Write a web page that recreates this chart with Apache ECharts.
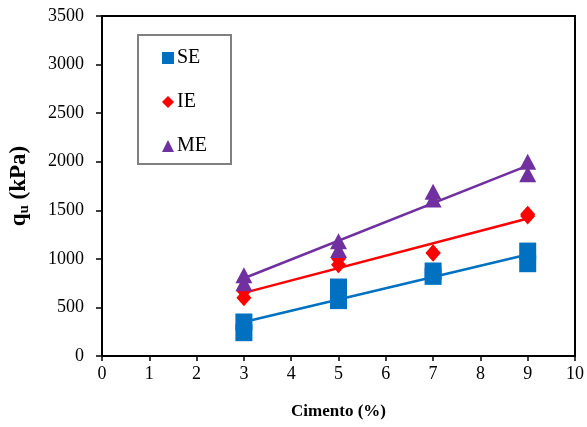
<!DOCTYPE html>
<html>
<head>
<meta charset="utf-8">
<script src="https://cdn.jsdelivr.net/npm/echarts@6/dist/echarts.min.js"></script>
<style>html,body{margin:0;padding:0;background:#fff}#c{width:587px;height:427px}</style>
</head>
<body>
<div id="c"></div>
<script>
const xTicks = [0,1,2,3,4,5,6,7,8,9,10];
const yTicks = [0,500,1000,1500,2000,2500,3000,3500];
const cement = [3,3,5,5,7,7,9,9];
const seValues = [350,240,710,570,875,820,1080,950];
const ieValues = [670,600,1000,940,1060,1060,1460,1440];
const meValues = [830,750,1180,1090,1690,1610,2000,1870];
const trendX = [3,9];
const seTrend = [350,1045];
const ieTrend = [650,1415];
const meTrend = [800,1960];

const font = '"Liberation Serif","Times New Roman",serif';
const pairs = (xs, ys) => xs.map((x,i)=>[x, ys[i]]);

const chart = echarts.init(document.getElementById('c'));
chart.setOption({
  animation:false,
  backgroundColor:'#fff',
  grid:{left:101,right:12,top:16,bottom:71,show:true,borderColor:'#000',borderWidth:2},
  legend:{
    data:['SE','IE','ME'],
    orient:'vertical',left:138,top:35,
    padding:[13,24,8,24],
    itemGap:24,itemWidth:12,itemHeight:12,
    borderColor:'#808080',borderWidth:2,
    textStyle:{fontFamily:font,fontSize:20,color:'#000',padding:[0,0,0,-2]}
  },
  xAxis:{
    type:'value',min:0,max:10,interval:1,
    name:'Cimento (%)',nameLocation:'middle',nameGap:47,
    nameTextStyle:{fontFamily:font,fontSize:17,fontWeight:'bold',color:'#000'},
    axisLine:{lineStyle:{color:'#000',width:2}},
    axisTick:{inside:false,length:5,lineStyle:{color:'#000',width:1.5}},
    axisLabel:{fontFamily:font,fontSize:18,color:'#000',margin:9,formatter:v=>String(v)},
    splitLine:{show:false}
  },
  yAxis:{
    type:'value',min:0,max:3500,interval:500,
    name:'{b|q}{s|u}{b| (kPa)}',nameLocation:'middle',nameGap:70,nameRotate:90,
    nameTextStyle:{rich:{
      b:{fontFamily:font,fontSize:23,fontWeight:'bold',color:'#000'},
      s:{fontFamily:font,fontSize:15,fontWeight:'bold',color:'#000',padding:[10,0,0,0]}
    }},
    axisLine:{lineStyle:{color:'#000',width:2}},
    axisTick:{inside:false,length:6,lineStyle:{color:'#000',width:1.5}},
    axisLabel:{fontFamily:font,fontSize:18,color:'#000',margin:18,formatter:v=>String(v)},
    splitLine:{show:false}
  },
  series:[
    {name:'SE trend',type:'line',data:pairs(trendX,seTrend),symbol:'none',lineStyle:{color:'#0070C0',width:2.5},z:1},
    {name:'IE trend',type:'line',data:pairs(trendX,ieTrend),symbol:'none',lineStyle:{color:'#FF0000',width:2.5},z:1},
    {name:'ME trend',type:'line',data:pairs(trendX,meTrend),symbol:'none',lineStyle:{color:'#7030A0',width:2.5},z:1},
    {name:'SE',type:'scatter',data:pairs(cement,seValues),symbol:'rect',symbolSize:17,itemStyle:{color:'#0070C0',opacity:1},z:3},
    {name:'IE',type:'scatter',data:pairs(cement,ieValues),symbol:'diamond',symbolSize:[15,17],itemStyle:{color:'#FF0000',opacity:1},z:3},
    {name:'ME',type:'scatter',data:pairs(cement,meValues),symbol:'triangle',symbolSize:[17,16],itemStyle:{color:'#7030A0',opacity:1},z:3}
  ]
});
</script>
</body>
</html>
